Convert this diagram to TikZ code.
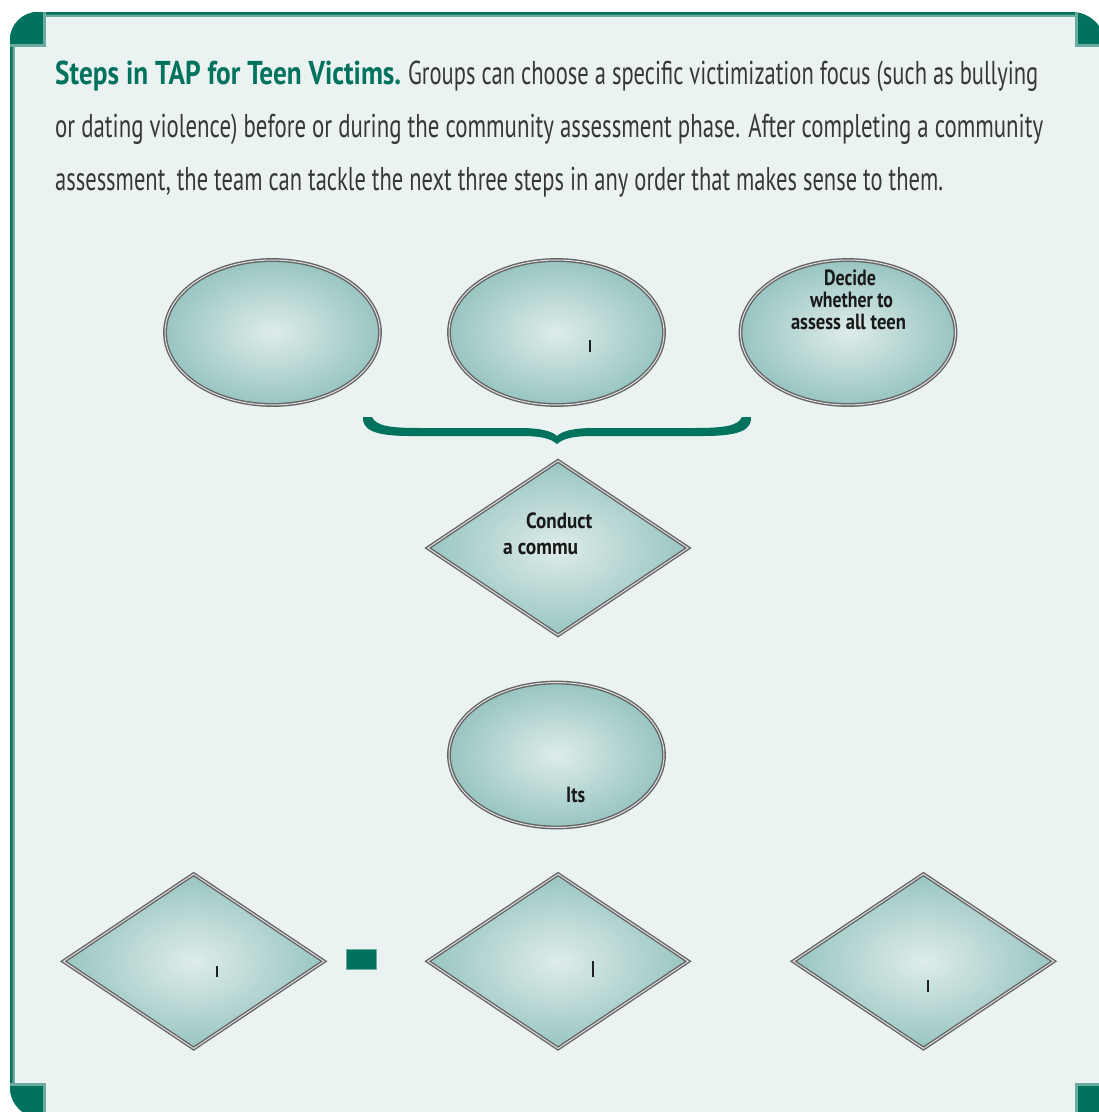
\documentclass[tikz,border=0pt]{standalone}
\usepackage{fontspec}
\setmainfont{PT Sans}
\usepackage{graphicx}
\usetikzlibrary{shapes.geometric}
\definecolor{tapgreen}{RGB}{0,114,94}
\definecolor{taplight}{RGB}{108,172,160}
\definecolor{panelbg}{RGB}{234,243,242}
\definecolor{bodytext}{RGB}{55,55,55}
\definecolor{shapein}{RGB}{222,236,234}
\definecolor{shapeout}{RGB}{152,197,193}
\definecolor{rimdark}{RGB}{100,100,100}
\definecolor{rimlight}{RGB}{225,225,225}
\newcommand\fitw[2]{\resizebox{#1}{\height}{#2}}
\newcommand\fitwh[3]{\resizebox{#1}{#2}{#3}}
\def\panelpath{(10,1087) -- (10,40) .. controls (10,24.54) and (22.54,12) .. (38,12) -- (1071,12) .. controls (1090.33,12) and (1106,27.67) .. (1106,47) -- (1106,1118) -- (41,1118) .. controls (23.88,1118) and (10,1104.12) .. (10,1087) -- cycle}
\begin{document}
\begin{tikzpicture}[x=1pt,y=-1pt,
  ovalnode/.style={ellipse, shade, inner color=shapein, outer color=shapeout,
    draw=rimdark, double=rimlight, double distance=1pt, line width=1.4pt,
    inner sep=0pt, minimum width=215pt, minimum height=145pt},
  rhombnode/.style={diamond, shade, inner color=shapein, outer color=shapeout,
    draw=rimdark, double=rimlight, double distance=1pt, line width=1.4pt,
    inner sep=0pt, minimum width=261pt, minimum height=175pt},
  captionline/.style={anchor=base west, inner sep=0pt, font=\fontsize{33}{40}\selectfont, text=bodytext},
  shapelabel/.style={anchor=base, inner sep=0pt, font=\fontsize{22}{26}\selectfont\bfseries, text=black!90},
  tick/.style={anchor=base west, inner sep=0pt, font=\bfseries, text=black!90},
  swatch/.style={rectangle, fill=tapgreen, draw=taplight, line width=0.8pt, minimum width=30pt, minimum height=20pt, inner sep=0pt}
]
\useasboundingbox (0,0) rectangle (1099,1112);
\fill[white] (0,0) rectangle (1099,1112);
% panel
\begin{scope}
  \clip \panelpath;
  \fill[panelbg] \panelpath;
  \draw[taplight, line width=9.6pt] \panelpath;
  \draw[tapgreen, line width=5pt] \panelpath;
  % corner squares
  \fill[taplight] (0,0) rectangle (46,47);
  \fill[tapgreen] (0,0) rectangle (43.3,44.3);
  \fill[taplight] (1075,0) rectangle (1110,46.7);
  \fill[tapgreen] (1077.7,0) rectangle (1110,44);
  \fill[taplight] (0,1083.3) rectangle (46,1120);
  \fill[tapgreen] (0,1086) rectangle (43.3,1120);
  \fill[taplight] (1075,1083.3) rectangle (1110,1120);
  \fill[tapgreen] (1077.7,1086) rectangle (1110,1120);
\end{scope}

% caption
\node[captionline] (cap1) at (55,84) {\fitw{346pt}{\textcolor{tapgreen}{\bfseries Steps in TAP for Teen Victims.}}\hspace{7pt}\fitw{630pt}{Groups can choose a specific victimization focus (such as bullying}};
\node[captionline] (cap2) at (55,137) {\fitw{988pt}{or dating violence) before or during the community assessment phase. After completing a community}};
\node[captionline] (cap3) at (55,190) {\fitw{888pt}{assessment, the team can tackle the next three steps in any order that makes sense to them.}};

% top row ellipses
\node[ovalnode] (e1) at (272.5,332.5) {};
\node[ovalnode] (e2) at (556.5,332.5) {};
\node[ovalnode] (e3) at (848,332.5) {};
\node[tick] (t2) at (588,352) {\fitwh{4pt}{12pt}{I}};
\node[shapelabel] (d1) at (850,285) {\fitw{52pt}{Decide}};
\node[shapelabel] (d2) at (851.5,307) {\fitw{83pt}{whether to}};
\node[shapelabel] (d3) at (848.5,329) {\fitw{115pt}{assess all teen}};

% brace
\fill[tapgreen] (363,417) -- (372,417) .. controls (376,426) and (390,428) .. (420,428) -- (520,428)
  .. controls (540,428) and (552,431) .. (557,436) .. controls (562,431) and (574,428) .. (594,428)
  -- (694,428) .. controls (724,428) and (738,426) .. (742,417) -- (751,417)
  .. controls (752,430) and (739,436) .. (704,436) -- (594,436)
  .. controls (574,436) and (564,438) .. (557,444) .. controls (550,438) and (540,436) .. (520,436)
  -- (410,436) .. controls (375,436) and (362,430) .. (363,417) -- cycle;

% central diamond
\node[rhombnode] (c1) at (558,548) {};
\node[shapelabel, anchor=base west] (c1a) at (526,528) {\fitw{66pt}{Conduct}};
\node[shapelabel, anchor=base west] (c1b) at (503,554) {\fitw{75pt}{a commu}};

% middle ellipse
\node[ovalnode] (e4) at (556.5,755) {};
\node[shapelabel, anchor=base west] (e4a) at (566,802) {\fitw{19pt}{Its}};

% bottom row diamonds
\node[rhombnode] (b1) at (193.7,961.3) {};
\node[rhombnode] (b2) at (558,961.3) {};
\node[rhombnode] (b3) at (923.5,961.3) {};
\node[tick] (tb1) at (215,977) {\fitwh{4pt}{11pt}{I}};
\node[tick] (tb2) at (591,977) {\fitwh{4pt}{16pt}{I}};
\node[tick] (tb3) at (926,992) {\fitwh{4pt}{12pt}{I}};
\node[swatch] (sq) at (361,959) {};
\end{tikzpicture}
\end{document}
